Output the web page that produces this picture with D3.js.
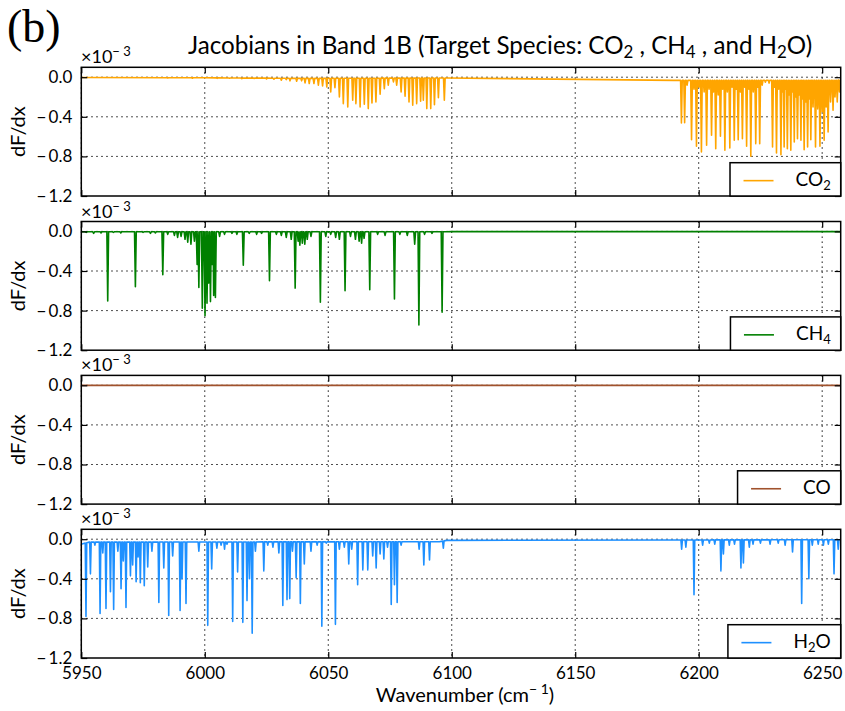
<!DOCTYPE html>
<html>
<head>
<meta charset="utf-8">
<script src="https://cdn.jsdelivr.net/npm/d3@7"></script>
<style>
  html, body { margin: 0; padding: 0; background: #fff; }
  svg { display: block; }
  text { font-family: Lato, "Open Sans", sans-serif; fill: #000; }
</style>
</head>
<body>
<svg id="chart" width="845" height="711"></svg>
<script>
// ---------------- DATA ----------------
const xTicks = [5950, 6000, 6050, 6100, 6150, 6200, 6250];
const yTicks = [0.0, -0.4, -0.8, -1.2];
const xDomain = [5950, 6257.5];
const yDomain = [-1.2, 0.1];

const speciesNames = ["CO2", "CH4", "CO", "H2O"];
const speciesColors = ["#FFA500", "#008000", "#A0522D", "#1E90FF"];

// continuum (baseline) knots: [wavenumber, value x1e-3]
const co2Continuum = [[5950, -0.003], [6000, -0.006], [6040, -0.012], [6098, -0.008], [6190, -0.032], [6257.5, -0.03]];
const ch4Continuum = [[5950, -0.004], [6098, -0.004], [6100, -0.002], [6257.5, -0.002]];
const coContinuum  = [[5950, -0.001], [6257.5, -0.001]];
const h2oContinuum = [[5950, -0.05], [5953, -0.03], [6095, -0.025], [6098, -0.012], [6190, -0.008], [6257.5, -0.005]];

// absorption lines: [wavenumber, minimum value x1e-3]
const co2Lines = [
  [5985, -0.008], [5995, -0.01], [6005, -0.012], [6010, -0.01], [6015, -0.015], [6020, -0.012],
  [6025, -0.018], [6028, -0.02], [6031, -0.03], [6033, -0.025],
  [6034.5, -0.037], [6037.2, -0.041], [6039.2, -0.037], [6040.6, -0.058], [6042.3, -0.064],
  [6044.2, -0.064], [6046.0, -0.081], [6047.7, -0.088], [6049.4, -0.098], [6051.0, -0.149],
  [6052.7, -0.105], [6054.5, -0.199], [6056.1, -0.267], [6057.9, -0.300], [6059.9, -0.233],
  [6061.2, -0.267], [6062.9, -0.300], [6064.6, -0.273], [6066.2, -0.317], [6067.7, -0.260],
  [6069.3, -0.250], [6071.0, -0.172], [6072.7, -0.115], [6074.3, -0.081], [6076.4, -0.048],
  [6077.7, -0.081], [6079.5, -0.149], [6081.1, -0.193], [6082.7, -0.250], [6084.2, -0.284],
  [6085.8, -0.267], [6087.4, -0.243], [6088.5, -0.233], [6089.9, -0.317], [6091.5, -0.317],
  [6093.0, -0.277], [6094.6, -0.206], [6097.0, -0.233],
  [6193.0, -0.462], [6194.3, -0.46], [6195.3, -0.08], [6197.1, -0.631], [6198.1, -0.12],
  [6199.1, -0.698], [6200.1, -0.10], [6201.1, -0.755], [6202.2, -0.15], [6203.2, -0.688],
  [6204.2, -0.12], [6205.2, -0.587], [6206.0, -0.15], [6206.9, -0.722], [6207.9, -0.18],
  [6208.8, -0.597], [6209.7, -0.12], [6210.6, -0.738], [6211.6, -0.15], [6212.6, -0.715],
  [6213.5, -0.10], [6214.4, -0.637], [6215.2, -0.12], [6216.0, -0.631], [6216.9, -0.15],
  [6217.7, -0.621], [6218.6, -0.10], [6219.4, -0.698], [6220.3, -0.12], [6221.1, -0.799],
  [6222.1, -0.15], [6223.1, -0.671], [6223.9, -0.10], [6224.7, -0.671], [6225.7, -0.08],
  [6227.0, -0.05], [6228.5, -0.06], [6229.9, -0.705], [6230.7, -0.10], [6231.5, -0.765],
  [6232.4, -0.12], [6233.3, -0.782], [6234.0, -0.15], [6234.6, -0.705], [6235.2, -0.12],
  [6235.9, -0.722], [6236.6, -0.18], [6237.3, -0.738], [6238.0, -0.15], [6238.7, -0.654],
  [6239.3, -0.20], [6240.0, -0.621], [6240.7, -0.18], [6241.4, -0.637], [6242.0, -0.22],
  [6242.7, -0.732], [6243.4, -0.25], [6244.1, -0.705], [6244.8, -0.22], [6245.4, -0.631],
  [6246.3, -0.30], [6247.3, -0.705], [6248.2, -0.32], [6249.1, -0.698], [6250.0, -0.35],
  [6250.8, -0.637], [6251.6, -0.30], [6252.4, -0.553], [6253.4, -0.25], [6254.4, -0.334],
  [6255.2, -0.20], [6256.1, -0.250], [6257.0, -0.15]
];
const ch4Lines = [
  [5952, -0.01], [5955, -0.02], [5958, -0.015], [5960.7, -0.702], [5963, -0.01], [5966, -0.015],
  [5971.9, -0.559], [5975, -0.01], [5978, -0.02], [5980, -0.015], [5983.0, -0.437],
  [5985, -0.03], [5987.7, -0.04], [5989, -0.06], [5990.4, -0.05], [5992, -0.08], [5993.1, -0.11],
  [5994.4, -0.13], [5995.8, -0.10], [5996.9, -0.335], [5997.6, -0.566], [5999.0, -0.776],
  [6000.1, -0.851], [6000.9, -0.726], [6001.6, -0.522], [6002.3, -0.709], [6003.0, -0.335],
  [6003.6, -0.648], [6004.3, -0.668], [6006, -0.05], [6008, -0.03], [6011, -0.02], [6013, -0.03],
  [6015.6, -0.342], [6018, -0.02], [6021, -0.03], [6023, -0.02], [6026.2, -0.498], [6029, -0.03],
  [6031, -0.04], [6033, -0.06], [6035, -0.08], [6036.6, -0.573], [6037.8, -0.10], [6038.5, -0.14],
  [6039.5, -0.12], [6040.5, -0.13], [6041.5, -0.08], [6043, -0.05], [6046.8, -0.715],
  [6049, -0.05], [6051, -0.03], [6053, -0.06], [6054.5, -0.08], [6056.8, -0.600], [6059, -0.05],
  [6061, -0.08], [6062.5, -0.10], [6063.5, -0.12], [6064.5, -0.07], [6066.8, -0.590],
  [6070, -0.03], [6073, -0.04], [6076.8, -0.682], [6079, -0.03], [6082, -0.04], [6085, -0.13],
  [6086.7, -0.946], [6089, -0.03], [6092, -0.02], [6096.1, -0.817]
];
const coLines = [];
const h2oLines = [
  [5951.9, -0.78], [5953.7, -0.35], [5955.5, -0.06], [5957.6, -0.75], [5958.7, -0.14], [5960.0, -0.70],
  [5961.8, -0.53], [5963.1, -0.71], [5964.8, -0.12], [5966.1, -0.50], [5967.0, -0.22], [5968.1, -0.69],
  [5969.9, -0.37], [5970.8, -0.26], [5972.2, -0.43], [5973.0, -0.18], [5973.9, -0.44], [5975.5, -0.47],
  [5976.9, -0.28], [5978.6, -0.12], [5981.4, -0.64], [5983.4, -0.29], [5985.4, -0.77], [5987.0, -0.17],
  [5990.0, -0.72], [5990.8, -0.40], [5992.4, -0.65], [5997.6, -0.12], [6001.2, -0.87], [6002.8, -0.30],
  [6004.9, -0.09], [6006.6, -0.06], [6008.0, -0.10], [6009.0, -0.05], [6011.3, -0.83], [6013.3, -0.33],
  [6015.4, -0.84], [6017.1, -0.62], [6018.1, -0.40], [6019.2, -0.95], [6020.5, -0.12], [6023.9, -0.32],
  [6025.5, -0.06], [6027.6, -0.08], [6030.0, -0.14], [6031.6, -0.67], [6033.3, -0.61], [6034.4, -0.60],
  [6035.5, -0.12], [6037.0, -0.39], [6038.7, -0.65], [6040.3, -0.25], [6043.0, -0.12], [6045.5, -0.06],
  [6047.4, -0.88], [6049.2, -0.04], [6052.9, -0.86], [6054.5, -0.10], [6056.5, -0.08], [6058.3, -0.25],
  [6059.5, -0.10], [6061.9, -0.46], [6064.0, -0.31], [6066.0, -0.31], [6068.0, -0.17], [6069.4, -0.29],
  [6071.0, -0.15], [6072.5, -0.20], [6074.0, -0.08], [6075.5, -0.66], [6076.8, -0.46], [6077.9, -0.64],
  [6079.5, -0.06], [6086.8, -0.10], [6088.7, -0.26], [6091.0, -0.21], [6096.6, -0.09],
  [6193.1, -0.10], [6194.8, -0.08], [6198.1, -0.56], [6201.6, -0.06], [6204.3, -0.04], [6206.5, -0.05],
  [6209.0, -0.32], [6210.0, -0.15], [6212.4, -0.06], [6214.5, -0.05], [6217.1, -0.29], [6218.1, -0.24],
  [6220.5, -0.08], [6222.0, -0.05], [6225.0, -0.04], [6228.9, -0.05], [6232.2, -0.04], [6235.0, -0.06],
  [6238.0, -0.13], [6241.7, -0.65], [6244.6, -0.40], [6246.0, -0.06], [6248.4, -0.05], [6250.5, -0.06],
  [6252.5, -0.05], [6254.8, -0.35], [6256.5, -0.10]
];

const continua = [co2Continuum, ch4Continuum, coContinuum, h2oContinuum];
const lineLists = [co2Lines, ch4Lines, coLines, h2oLines];
const halfWidths = [0.33, 0.35, 0.3, 0.3];
// legend labels: [main, subscript, tail]
const legendLabels = [["CO", "2", ""], ["CH", "4", ""], ["CO", "", ""], ["H", "2", "O"]];

// ---------------- LAYOUT ----------------
const svg = d3.select("#chart");
const left = 81.3, right = 840.7;
const panelTops = [67.3, 221.5, 375.4, 529.3];
const panelH = 128.7;
const font = "Lato, 'Open Sans', sans-serif";

const x = d3.scaleLinear().domain(xDomain).range([left, right]);

// "(b)"
svg.append("text").attr("x", 7).attr("y", 42)
  .style("font-family", "'Liberation Serif', 'DejaVu Serif', serif")
  .attr("font-size", 46).text("(b)");

// Title
const title = svg.append("text").attr("x", 188).attr("y", 54).attr("font-size", 19);
title.append("tspan").text("Jacobians in Band 1B (Target Species: CO");
title.append("tspan").attr("font-size", 13).attr("dy", 4).text("2");
title.append("tspan").attr("dy", -4).text(" , CH");
title.append("tspan").attr("font-size", 13).attr("dy", 4).text("4");
title.append("tspan").attr("dy", -4).text(" , and  H");
title.append("tspan").attr("font-size", 13).attr("dy", 4).text("2");
title.append("tspan").attr("dy", -4).text("O)");
const tw = title.node().getComputedTextLength();
const targetW = 624;
const fs = 19 * targetW / tw;
title.attr("font-size", fs);
title.selectAll("tspan").filter((d, i) => i % 2 === 1).attr("font-size", fs * 0.7);

speciesNames.forEach((name, i) => {
  const top = panelTops[i];
  const y = d3.scaleLinear().domain(yDomain).range([top + panelH, top]);
  const g = svg.append("g");

  // grid
  g.selectAll(".vgrid").data(xTicks).enter().append("line")
    .attr("x1", d => x(d)).attr("x2", d => x(d))
    .attr("y1", top).attr("y2", top + panelH)
    .attr("stroke", "#000").attr("stroke-width", 1).attr("stroke-dasharray", "1.4,3.6");
  g.selectAll(".hgrid").data(yTicks.filter(d => d > -1.2)).enter().append("line")
    .attr("x1", left).attr("x2", right)
    .attr("y1", d => y(d)).attr("y2", d => y(d))
    .attr("stroke", "#000").attr("stroke-width", 1).attr("stroke-dasharray", "1.4,3.6");

  // series
  const cont = continua[i];
  const base = d3.scaleLinear().domain(cont.map(d => d[0])).range(cont.map(d => d[1]));
  const hw = halfWidths[i];
  const pts = [];
  lineLists[i].forEach(([p, v]) => {
    pts.push([p - hw, base(p - hw)]);
    pts.push([p, v]);
    pts.push([p + hw, base(p + hw)]);
  });
  cont.forEach(k => pts.push(k));
  pts.sort((a, b) => a[0] - b[0]);
  const clipId = "clip" + i;
  svg.append("clipPath").attr("id", clipId).append("rect")
    .attr("x", left).attr("y", top).attr("width", right - left).attr("height", panelH);
  g.append("path").datum(pts)
    .attr("clip-path", `url(#${clipId})`)
    .attr("fill", "none").attr("stroke", speciesColors[i]).attr("stroke-width", 1.6)
    .attr("stroke-linejoin", "round")
    .attr("d", d3.line().x(d => x(d[0])).y(d => y(d[1])));

  // axes: ticks inward on all four sides
  const axB = d3.axisBottom(x).tickValues(xTicks).tickSize(-6).tickPadding(6)
    .tickFormat(i === 3 ? d3.format("d") : "");
  const axT = d3.axisTop(x).tickValues(xTicks).tickSize(-6).tickFormat("");
  const fmtY = d => d === 0 ? "0.0" : "\u2212\u2009" + Math.abs(d).toFixed(1);
  const axL = d3.axisLeft(y).tickValues(yTicks).tickSize(-6).tickPadding(9).tickFormat(fmtY);
  const axR = d3.axisRight(y).tickValues(yTicks).tickSize(-6).tickFormat("");
  const gb = g.append("g").attr("transform", `translate(0,${top + panelH})`).call(axB);
  const gt = g.append("g").attr("transform", `translate(0,${top})`).call(axT);
  const gl = g.append("g").attr("transform", `translate(${left},0)`).call(axL);
  const gr = g.append("g").attr("transform", `translate(${right},0)`).call(axR);
  [gb, gt, gl, gr].forEach(a => {
    a.select(".domain").remove();
    a.selectAll(".tick line").attr("stroke", "#000").attr("stroke-width", 1.2);
  });
  gl.selectAll(".tick text").attr("font-size", 17).style("font-family", font).attr("fill", "#000");
  gb.selectAll(".tick text").attr("font-size", 17).style("font-family", font).attr("fill", "#000").attr("dy", "0.9em");

  // frame
  g.append("rect").attr("x", left).attr("y", top).attr("width", right - left).attr("height", panelH)
    .attr("fill", "none").attr("stroke", "#000").attr("stroke-width", 1.5);

  // multiplier label
  const m = g.append("text").attr("x", 81).attr("y", top - 4).attr("font-size", 18);
  m.append("tspan").text("\u00d710");
  m.append("tspan").attr("font-size", 13).attr("dy", -7).text("\u2212 3");

  // y label
  g.append("text").attr("transform", `translate(25,${top + panelH / 2}) rotate(-90)`)
    .attr("text-anchor", "middle").attr("font-size", 20).text("dF/dx");

  // legend
  const lg = g.append("g");
  const box = lg.append("rect").attr("fill", "#fff").attr("stroke", "#000").attr("stroke-width", 1.5);
  const lab = legendLabels[i];
  const lt = lg.append("text").attr("font-size", 19);
  lt.append("tspan").text(lab[0]);
  if (lab[1]) lt.append("tspan").attr("font-size", 13).attr("dy", 4).text(lab[1]);
  if (lab[2]) lt.append("tspan").attr("dy", -4).text(lab[2]);
  const textW = lt.node().getComputedTextLength();
  const boxW = 13.5 + 30 + 22 + textW + 10;
  const boxH = 33.3;
  const bx = right - boxW, by = top + panelH - boxH;
  box.attr("x", bx).attr("y", by).attr("width", boxW).attr("height", boxH);
  lg.append("line").attr("x1", bx + 13.5).attr("x2", bx + 43.5)
    .attr("y1", by + boxH / 2 + 1.3).attr("y2", by + boxH / 2 + 1.3)
    .attr("stroke", speciesColors[i]).attr("stroke-width", 1.6);
  lt.attr("x", bx + 65.5).attr("y", by + boxH / 2 + 6.5);
});

// x label
const xl = svg.append("text").attr("x", 465).attr("y", 702).attr("text-anchor", "middle").attr("font-size", 20);
xl.append("tspan").text("Wavenumber (cm");
xl.append("tspan").attr("font-size", 14).attr("dy", -8).text("\u2212 1");
xl.append("tspan").attr("dy", 8).text(")");
</script>
</body>
</html>
